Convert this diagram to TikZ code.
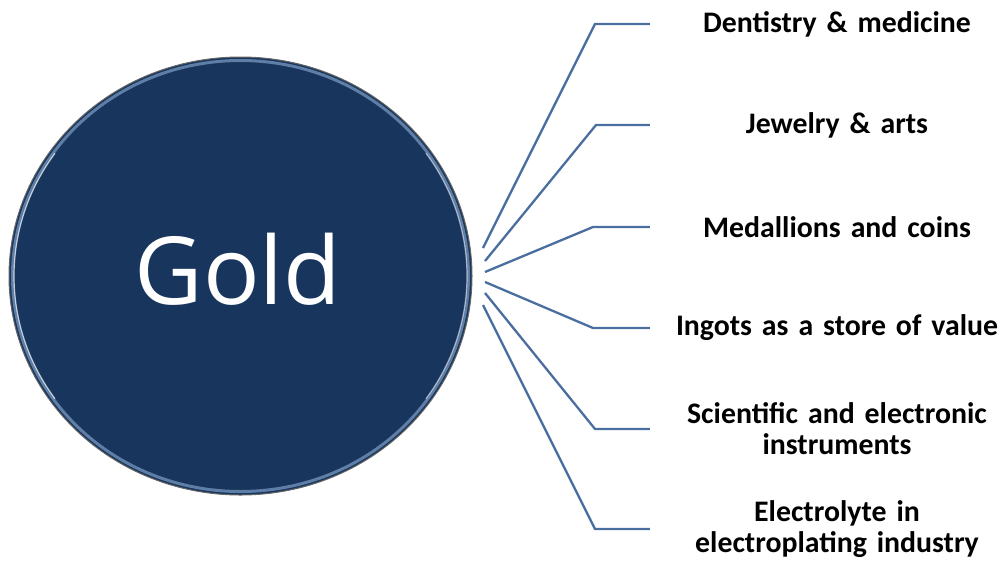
\documentclass[tikz,border=0pt]{standalone}
\usepackage{fontspec}
\usetikzlibrary{shapes.geometric}
\setmainfont{Carlito}
\newfontfamily\titlefont{Open Sans}
\definecolor{navy}{HTML}{18365D}
\definecolor{rim}{HTML}{8FAED6}
\definecolor{wire}{HTML}{4A6E9F}
\begin{document}
\begin{tikzpicture}[x=1pt,y=-1pt,
  hub/.style={ellipse, fill=navy, draw=black!60, line width=1pt,
    minimum width=463pt, minimum height=438pt, inner sep=0pt},
  use/.style={align=center, text width=374pt, inner sep=0pt,
    font=\bfseries\fontsize{29.8}{31}\selectfont},
  spoke/.style={draw=wire, line width=2.3pt}]
\useasboundingbox (0,0) rectangle (1000,560);

% central disc with a bevelled rim
\node[hub] (gold) at (240.5,276) {};
\draw[rim, line width=3pt, opacity=0.6] (240.5,276) ellipse [x radius=228, y radius=215.5];
\draw[white, line width=1.2pt, opacity=0.7]
  (240.5,276) ++(145:226.5 and 214) arc [start angle=145, end angle=215, x radius=226.5, y radius=214];
\draw[white, line width=1.2pt, opacity=0.55]
  (240.5,276) ++(-35:226.5 and 214) arc [start angle=-35, end angle=35, x radius=226.5, y radius=214];
\node[text=white, font=\titlefont\fontsize{94}{94}\selectfont, inner sep=0pt] (title) at (238,269) {Gold};

% uses; each box's west edge is where its spoke ends
\node[use] (u1) at (837,24)  {Dentistry \& medicine};
\node[use] (u2) at (837,125) {Jewelry \& arts};
\node[use] (u3) at (837,227) {Medallions and coins};
\node[use] (u4) at (837,328) {Ingots as a store of value};
\node[use] (u5) at (837,429) {Scientific and electronic\\instruments};
\node[use] (u6) at (837,529) {Electrolyte in\\electroplating industry};

% spoke roots beside the disc
\coordinate (s1) at (483,248);
\coordinate (s2) at (485,261);
\coordinate (s3) at (485,272);
\coordinate (s4) at (485,282);
\coordinate (s5) at (485,293);
\coordinate (s6) at (483,305);

% elbows
\coordinate (k1) at (595,24);
\coordinate (k2) at (596,125);
\coordinate (k3) at (593,227);
\coordinate (k4) at (593,328);
\coordinate (k5) at (595,429);
\coordinate (k6) at (595,529);

\foreach \i in {1,...,6}
  \draw[spoke] (s\i) -- (k\i) -- (u\i.west);
\end{tikzpicture}
\end{document}
